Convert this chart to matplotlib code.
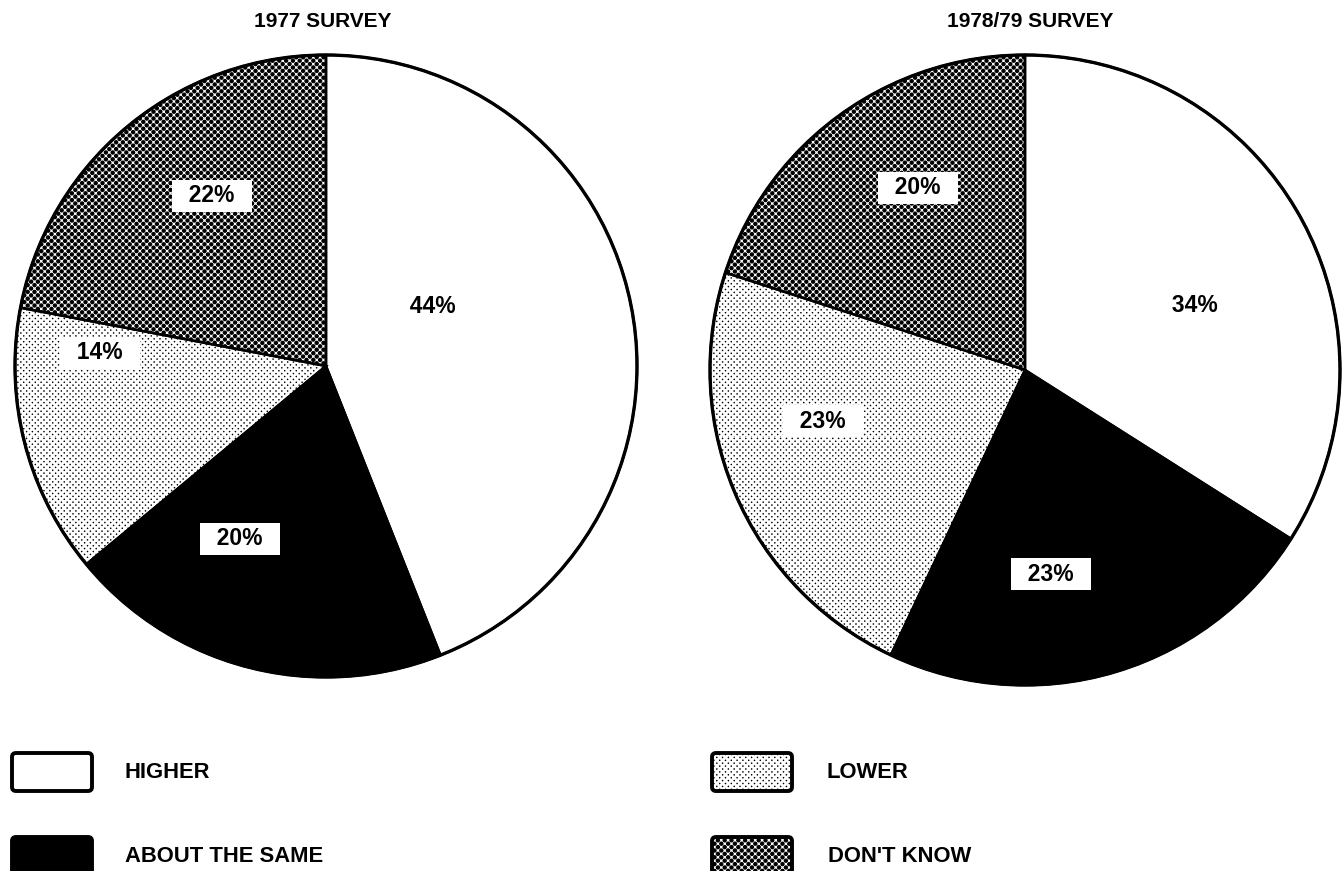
import matplotlib
matplotlib.use("Agg")
import numpy as np
import matplotlib.pyplot as plt
from matplotlib.patches import Circle, FancyBboxPatch

# ---- data ----
categories = ["HIGHER", "ABOUT THE SAME", "LOWER", "DON'T KNOW"]
survey_titles = ["1977 SURVEY", "1978/79 SURVEY"]
values_1977 = [44, 20, 14, 22]
values_1978 = [34, 23, 23, 20]

W, H = 1344, 871
plt.rcParams['font.family'] = ['Liberation Sans', 'DejaVu Sans']

fig = plt.figure(figsize=(W / 100, H / 100), dpi=100)
ax = fig.add_axes([0, 0, 1, 1])


def halftone(step, radius):
    """Diagonal dot screen texture (pixel grid of the whole figure)."""
    yy, xx = np.mgrid[0:H, 0:W].astype(float)
    u = (xx + yy) / (2 * step)
    v = (xx - yy) / (2 * step)
    du = (u - np.round(u)) * 2 * step
    dv = (v - np.round(v)) * 2 * step
    d = np.sqrt(du ** 2 + dv ** 2) / np.sqrt(2)
    return np.clip(d - radius + 0.5, 0, 1)


textures = {2: halftone(2.9, 0.75), 3: halftone(3.4, 2.2)}
faces = ['white', 'black', 'none', 'none']


def Y(y):
    return H - y


def style_patch(p, i):
    p.set_facecolor(faces[i])
    p.set_edgecolor('black')
    if i in textures:
        im = ax.imshow(textures[i], cmap='gray', vmin=0, vmax=1, extent=(0, W, 0, H),
                       origin='upper', interpolation='nearest', zorder=p.get_zorder() - 0.1)
        im.set_clip_path(p)


pies = [
    dict(values=values_1977, center=(326, 366), r=311, title_x=323,
         label_pos=[(0.344, 0.190), (-0.277, -0.556), (-0.727, 0.042), (-0.367, 0.547)]),
    dict(values=values_1978, center=(1025, 370), r=315, title_x=1030,
         label_pos=[(0.540, 0.206), (0.083, -0.648), (-0.641, -0.162), (-0.340, 0.578)]),
]

for k, pdef in enumerate(pies):
    cx, cy = pdef['center'][0], Y(pdef['center'][1])
    r = pdef['r']
    wedges, _ = ax.pie(pdef['values'], center=(cx, cy), radius=r, startangle=90,
                       counterclock=False,
                       wedgeprops=dict(linewidth=1.8, edgecolor='black'))
    for i, w in enumerate(wedges):
        w.set_zorder(2)
        style_patch(w, i)
    ax.add_patch(Circle((cx, cy), r, fill=False, edgecolor='black', linewidth=2.4, zorder=5))
    for i, v in enumerate(pdef['values']):
        fx, fy = pdef['label_pos'][i]
        bbox = None
        if i != 0:
            bbox = dict(boxstyle='square,pad=0.18', facecolor='white', edgecolor='none')
        ax.text(cx + fx * r, cy + fy * r, f"  {v}%  ", ha='center', va='center',
                fontsize=16.5, fontweight='bold', bbox=bbox, zorder=6)
    ax.text(pdef['title_x'], Y(22), survey_titles[k], ha='center', va='center',
            fontsize=15, fontweight='bold')

# ---- legend ----
leg = [
    (0, 12, 753, 125),
    (1, 12, 837, 125),
    (2, 712, 753, 827),
    (3, 712, 837, 828),
]
for i, x0, y0, tx in leg:
    rect = FancyBboxPatch((x0, Y(y0 + 38)), 80, 38, boxstyle='round,pad=0,rounding_size=4',
                          linewidth=2.8, zorder=3)
    ax.add_patch(rect)
    style_patch(rect, i)
    ax.text(tx, Y(y0 + 19), categories[i], ha='left', va='center',
            fontsize=15.8, fontweight='bold')

ax.set_xlim(0, W)
ax.set_ylim(0, H)
ax.set_aspect('auto')
ax.axis('off')

fig.savefig('out.png', dpi=100)
